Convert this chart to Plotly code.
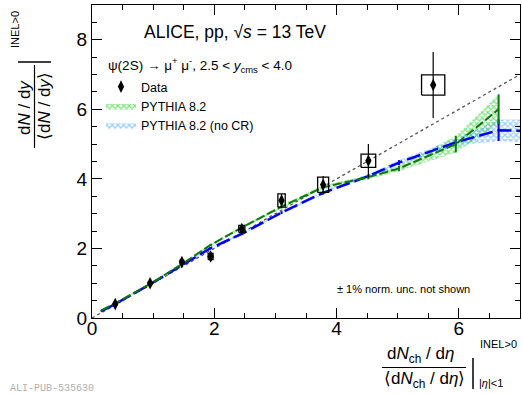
import plotly.graph_objects as go

# ---------------- data ----------------
data_x = [0.38, 0.95, 1.47, 1.94, 2.45, 3.10, 3.78, 4.52, 5.58]
data_y = [0.40, 1.00, 1.61, 1.77, 2.56, 3.38, 3.83, 4.52, 6.70]
data_stat = [0.04, 0.05, 0.07, 0.08, 0.10, 0.18, 0.25, 0.48, 0.95]
data_sys_x = [0.03, 0.03, 0.03, 0.04, 0.05, 0.06, 0.09, 0.12, 0.19]
data_sys_y = [0.02, 0.03, 0.05, 0.09, 0.10, 0.19, 0.22, 0.19, 0.29]

cr_x = [0.15, 0.38, 0.95, 1.47, 1.94, 2.45, 3.10, 3.78, 4.52, 5.02, 5.95, 6.65]
cr_y = [0.22, 0.42, 0.98, 1.55, 2.10, 2.60, 3.20, 3.76, 4.05, 4.30, 5.00, 6.00]
cr_err = [0.01, 0.01, 0.02, 0.03, 0.03, 0.04, 0.05, 0.06, 0.06, 0.08, 0.24, 0.43]

nocr_x = [0.15, 0.38, 0.95, 1.47, 1.94, 2.45, 3.10, 3.78, 4.52, 5.02, 5.95, 6.65, 7.40]
nocr_y = [0.20, 0.40, 0.97, 1.52, 2.01, 2.42, 3.03, 3.60, 4.08, 4.47, 5.05, 5.40, 5.36]
nocr_err = [0.01, 0.01, 0.02, 0.02, 0.03, 0.03, 0.04, 0.05, 0.05, 0.07, 0.10, 0.31, 0.34]

ref_x = [0.0, 7.5]
ref_y = [0.0, 7.5]

x_ticks = [0, 2, 4, 6]
y_ticks = [0, 2, 4, 6, 8]

FONT = "Liberation Sans, Arial, Helvetica, sans-serif"

# page geometry helpers (plot area: x 92..520 px, y 5..318 px)
L, R, T, B, W, H = 92, 2, 5, 76, 522, 394
PW, PH = W - L - R, H - T - B


def px(xp):
    return (xp - L) / PW


def py(yp):
    return 1 - (yp - T) / PH


def band(x, y, e):
    up = [yi + ei for yi, ei in zip(y, e)]
    lo = [yi - ei for yi, ei in zip(y, e)]
    return list(x) + list(x)[::-1], up + lo[::-1]


fig = go.Figure()

# y = x reference line
fig.add_trace(go.Scatter(x=ref_x, y=ref_y, mode="lines", showlegend=False,
                         line=dict(color="#555555", width=1.3, dash="dot")))

# PYTHIA bands
bx, by = band(cr_x, cr_y, cr_err)
fig.add_trace(go.Scatter(x=bx, y=by, mode="lines", fill="toself", name="PYTHIA 8.2",
                         line=dict(width=0, color="rgba(0,0,0,0)"),
                         fillcolor="rgba(0,0,0,0)",
                         fillpattern=dict(shape="x", fgcolor="#00cc00", bgcolor="rgba(0,0,0,0)",
                                          size=4, solidity=0.55)))
bx2, by2 = band(nocr_x, nocr_y, nocr_err)
fig.add_trace(go.Scatter(x=bx2, y=by2, mode="lines", fill="toself", name="PYTHIA 8.2 (no CR)",
                         line=dict(width=0, color="rgba(0,0,0,0)"),
                         fillcolor="rgba(0,0,0,0)",
                         fillpattern=dict(shape="x", fgcolor="#3d9bff", bgcolor="rgba(0,0,0,0)",
                                          size=4, solidity=0.55)))

# PYTHIA central lines
fig.add_trace(go.Scatter(x=nocr_x, y=nocr_y, mode="lines", showlegend=False,
                         line=dict(color="#0000ee", width=2.5, dash="14px,5px"),
                         error_y=dict(type="data", array=nocr_err, color="#0000ee",
                                      thickness=2, width=0)))
fig.add_trace(go.Scatter(x=cr_x, y=cr_y, mode="lines", showlegend=False,
                         line=dict(color="#117711", width=2, dash="9px,3px"),
                         error_y=dict(type="data", array=cr_err, color="#117711",
                                      thickness=2, width=0)))

# data systematic boxes
box_x, box_y = [], []
for xi, yi, sx, sy in zip(data_x, data_y, data_sys_x, data_sys_y):
    box_x += [xi - sx, xi + sx, xi + sx, xi - sx, xi - sx, None]
    box_y += [yi - sy, yi - sy, yi + sy, yi + sy, yi - sy, None]
fig.add_trace(go.Scatter(x=box_x, y=box_y, mode="lines", showlegend=False,
                         line=dict(color="black", width=1.3)))

# data points
fig.add_trace(go.Scatter(x=data_x, y=data_y, mode="markers", name="Data",
                         marker=dict(symbol="diamond-tall", size=9, color="black"),
                         error_y=dict(type="data", array=data_stat, color="black",
                                      thickness=1.2, width=0)))

# legend order: Data first
fig.data[-1].legendrank = 1
fig.data[1].legendrank = 2
fig.data[2].legendrank = 3

axis_common = dict(showline=True, linecolor="black", linewidth=1.3, mirror="ticks",
                   ticks="inside", ticklen=10, tickwidth=1.2, tickcolor="black",
                   showgrid=False, zeroline=False,
                   tickfont=dict(family=FONT, size=19, color="black"),
                   minor=dict(ticks="inside", dtick=0.5, ticklen=5, tickwidth=1.2,
                              tickcolor="black", showgrid=False))

fig.update_layout(
    width=W, height=H,
    margin=dict(l=L, r=R, t=T, b=B),
    paper_bgcolor="white", plot_bgcolor="white",
    font=dict(family=FONT, color="black"),
    xaxis=dict(range=[0, 7], tickvals=x_ticks, ticktext=[str(v) for v in x_ticks],
               ticklabelstandoff=-7, **axis_common),
    yaxis=dict(range=[0, 9], tickvals=y_ticks, ticktext=[str(v) for v in y_ticks],
               ticklabelstandoff=0, **axis_common),
    legend=dict(x=px(101), y=py(72), xanchor="left", yanchor="top",
                bgcolor="rgba(0,0,0,0)", font=dict(family=FONT, size=12.5),
                itemwidth=30, tracegroupgap=0),
    showlegend=True,
)

ann = []
# in-plot texts
ann.append(dict(x=px(142), y=py(32), text="ALICE, pp, √<i>s</i> = 13 TeV", xanchor="left",
                yanchor="middle", font=dict(size=17.5)))
ann.append(dict(x=px(106), y=py(65),
                text="ψ(2S) → μ<sup>+</sup> μ<sup>-</sup>, 2.5 < <i>y</i><sub>cms</sub> < 4.0",
                xanchor="left", yanchor="middle", font=dict(size=13.5)))
ann.append(dict(x=px(335), y=py(289), text="± 1% norm. unc. not shown", xanchor="left",
                yanchor="middle", font=dict(size=11)))

# x-axis title (fraction)
ann.append(dict(x=px(420), y=py(355), text="d<i>N</i><sub>ch</sub> / d<i>η</i>",
                xanchor="center", yanchor="middle", font=dict(size=17)))
ann.append(dict(x=px(424), y=py(380), text="⟨d<i>N</i><sub>ch</sub> / d<i>η</i>⟩",
                xanchor="center", yanchor="middle", font=dict(size=17)))
ann.append(dict(x=px(478), y=py(344), text="INEL>0", xanchor="left", yanchor="middle",
                font=dict(size=11)))
ann.append(dict(x=px(477), y=py(383), text="|<i>η</i>|<1", xanchor="left", yanchor="middle",
                font=dict(size=11)))

# y-axis title (fraction, rotated)
ann.append(dict(x=px(25), y=py(108), text="d<i>N</i> / d<i>y</i>", textangle=-90,
                xanchor="center", yanchor="middle", font=dict(size=17)))
ann.append(dict(x=px(45), y=py(106), text="⟨d<i>N</i> / d<i>y</i>⟩", textangle=-90,
                xanchor="center", yanchor="middle", font=dict(size=17)))
ann.append(dict(x=px(15), y=py(30), text="INEL>0", textangle=-90,
                xanchor="center", yanchor="middle", font=dict(size=11)))

# watermark
ann.append(dict(x=px(8), y=py(388), text="ALI-PUB-535630", xanchor="left", yanchor="middle",
                font=dict(size=10, family="Liberation Mono, monospace", color="#b0b0b0")))

for a in ann:
    a.setdefault("xref", "paper")
    a.setdefault("yref", "paper")
    a["showarrow"] = False
fig.update_layout(annotations=ann)

shapes = [
    # x title fraction bar and evaluation bar
    dict(type="line", xref="paper", yref="paper", x0=px(382), x1=px(466), y0=py(367.5), y1=py(367.5),
         line=dict(color="black", width=1.2)),
    dict(type="line", xref="paper", yref="paper", x0=px(473), x1=px(473), y0=py(358), y1=py(389),
         line=dict(color="black", width=1.5)),
    # y title fraction bar and evaluation bar
    dict(type="line", xref="paper", yref="paper", x0=px(34.5), x1=px(34.5), y0=py(65), y1=py(148),
         line=dict(color="black", width=1.2)),
    dict(type="line", xref="paper", yref="paper", x0=px(18), x1=px(51), y0=py(62), y1=py(62),
         line=dict(color="black", width=1.5)),
]
fig.update_layout(shapes=shapes)

fig.write_html("out.html", config={"displayModeBar": False},
               post_script="document.body.style.margin='0';document.body.style.padding='0';")
